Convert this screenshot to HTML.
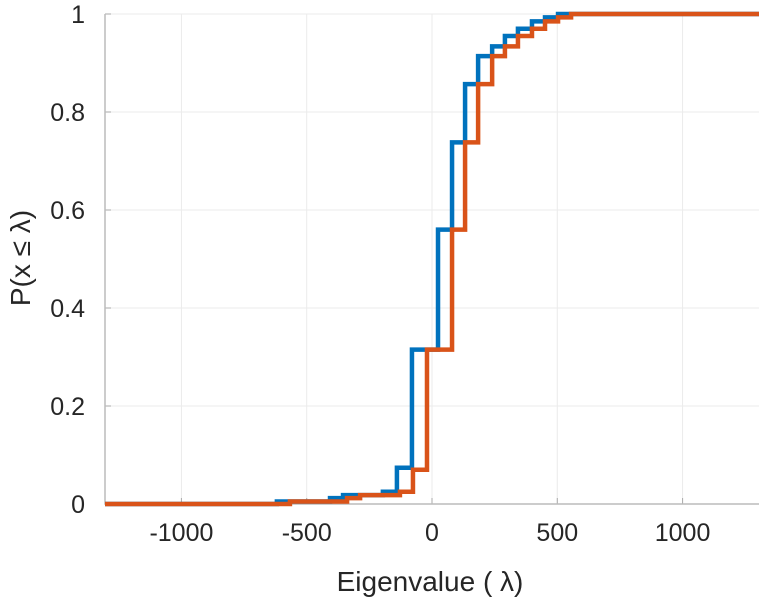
<!DOCTYPE html>
<html><head><meta charset="utf-8"><style>
body{margin:0;background:#fff;}
svg{display:block;font-family:"Liberation Sans",sans-serif;}
</style></head><body>
<svg id="chart" width="763" height="600" viewBox="0 0 763 600"></svg>
<script>
const xTicks=[-1000,-500,0,500,1000];
const yTicks=[0,0.2,0.4,0.6,0.8,1];
const yTickLabels=["0","0.2","0.4","0.6","0.8","1"];
const blueX=[-619,-407,-355,-196,-140,-80,24,80,132,184,240,291,343,399,451,503];
const blueP=[0.005,0.012,0.018,0.025,0.074,0.315,0.56,0.738,0.857,0.914,0.934,0.955,0.97,0.985,0.993,1.0];
const orangeX=[-567,-339,-287,-128,-76,-20,80,132,184,240,291,343,399,451,503,555];
const orangeP=[0.005,0.012,0.018,0.025,0.07,0.315,0.56,0.738,0.857,0.914,0.934,0.955,0.97,0.985,0.993,1.0];
const xMin=-1305,xMax=1305;
const L=105,R=759,T=14,B=504;
const sx=v=>L+(v-xMin)/(xMax-xMin)*(R-L);
const sy=p=>B-p*(B-T);
const svg=document.getElementById('chart');
const NS='http://www.w3.org/2000/svg';
function mk(tag,attrs,parent){const e=document.createElementNS(NS,tag);for(const k in attrs)e.setAttribute(k,attrs[k]);(parent||svg).appendChild(e);return e;}
xTicks.forEach(v=>{
  const g=mk('line',{x1:sx(v),x2:sx(v),y1:T,y2:B,stroke:'#ebebeb','stroke-width':1});
  
  
  const t=mk('line',{x1:sx(v),x2:sx(v),y1:B,y2:B-6,stroke:'#aaa','stroke-width':1});
  
  
  const tx=mk('text',{x:sx(v),y:B+37,'text-anchor':'middle','font-size':25,fill:'#262626'});
  tx.textContent=String(v);
  
  
});
yTicks.forEach((v,i)=>{
  const g=mk('line',{x1:L,x2:R,y1:sy(v),y2:sy(v),stroke:'#ebebeb','stroke-width':1});
  
  
  const t=mk('line',{x1:L,x2:L+6,y1:sy(v),y2:sy(v),stroke:'#aaa','stroke-width':1});
  
  
  const tx=mk('text',{x:L-20,y:sy(v)+9,'text-anchor':'end','font-size':25,fill:'#262626'});
  tx.textContent=yTickLabels[i];
  
  
});
const ax=mk('path',{d:`M${L},${T}V${B}H${R}`,fill:'none',stroke:'#bbb','stroke-width':1.5});


function stepPath(xs,ps){
  let d=`M${sx(xMin)},${sy(0)}`;
  xs.forEach((x,i)=>{d+=`H${sx(x)}V${sy(ps[i])}`;});
  d+=`H${sx(xMax)}`;return d;
}
const b=mk('path',{d:stepPath(blueX,blueP),fill:'none',stroke:'#0072BD','stroke-width':4.5});


const o=mk('path',{d:stepPath(orangeX,orangeP),fill:'none',stroke:'#D95319','stroke-width':4.5});


const xl=mk('text',{x:430,y:591,'text-anchor':'middle','font-size':28,fill:'#262626'});
xl.textContent='Eigenvalue (   λ)';


const yl=mk('text',{x:0,y:0,'text-anchor':'middle','font-size':28,fill:'#262626',transform:'translate(30,258) rotate(-90)'});
yl.textContent='P(x  ≤  λ)';


</script>
</body></html>
